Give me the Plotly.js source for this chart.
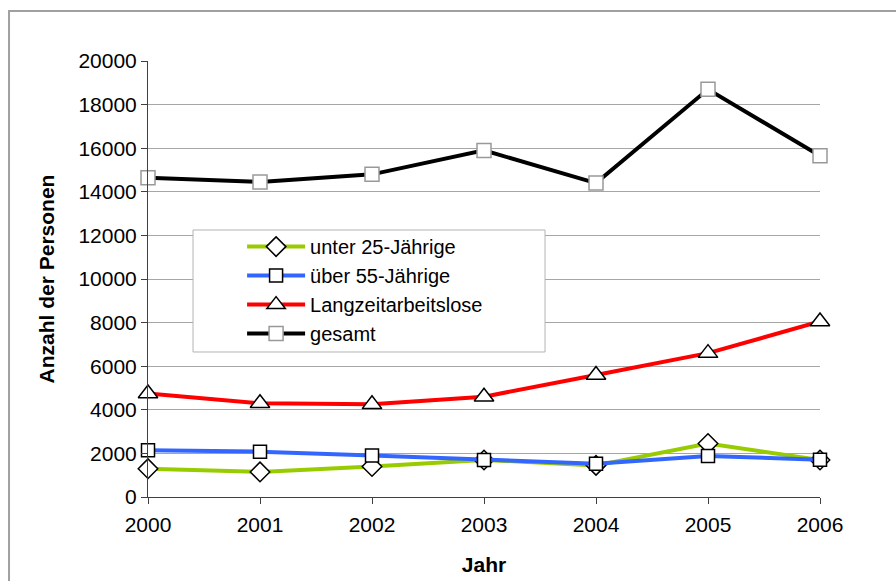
<!DOCTYPE html>
<html>
<head>
<meta charset="utf-8">
<script src="https://cdn.plot.ly/plotly-3.0.1.min.js"></script>
<style>html,body{margin:0;padding:0;background:#fff;}#chart{width:896px;height:581px;}</style>
</head>
<body>
<div id="chart"></div>
<script>
var years = [2000, 2001, 2002, 2003, 2004, 2005, 2006];
var unter25 = [1300, 1150, 1400, 1700, 1450, 2450, 1700];
var ueber55 = [2150, 2080, 1900, 1700, 1530, 1880, 1710];
var langzeit = [4750, 4300, 4250, 4600, 5600, 6600, 8050];
var gesamt = [14650, 14450, 14800, 15900, 14400, 18700, 15650];
var seriesNames = ["unter 25-Jährige", "über 55-Jährige", "Langzeitarbeitslose", "gesamt"];
var yTicks = [0, 2000, 4000, 6000, 8000, 10000, 12000, 14000, 16000, 18000, 20000];

var FONT = "Arial, 'Liberation Sans', sans-serif";

var traces = [
  {x: years, y: unter25, name: seriesNames[0], mode: "lines+markers", cliponaxis: false,
   line: {color: "#99CC00", width: 4},
   marker: {symbol: "diamond", size: 15, color: "#ffffff", line: {color: "#000000", width: 1.5}}},
  {x: years, y: ueber55, name: seriesNames[1], mode: "lines+markers", cliponaxis: false,
   line: {color: "#3366FF", width: 4},
   marker: {symbol: "square", size: 13, color: "#ffffff", line: {color: "#000000", width: 1.5}}},
  {x: years, y: langzeit, name: seriesNames[2], mode: "lines+markers", cliponaxis: false,
   line: {color: "#FF0000", width: 4},
   marker: {symbol: "triangle-up", size: 17, color: "#ffffff", line: {color: "#000000", width: 1.5}}},
  {x: years, y: gesamt, name: seriesNames[3], mode: "lines+markers", cliponaxis: false,
   line: {color: "#000000", width: 4},
   marker: {symbol: "square", size: 14, color: "#ffffff", line: {color: "#999999", width: 1.5}}}
];

var layout = {
  width: 896, height: 581,
  margin: {l: 148, r: 76, t: 61, b: 84},
  paper_bgcolor: "#ffffff", plot_bgcolor: "#ffffff",
  font: {family: FONT, size: 21, color: "#000000"},
  showlegend: true,
  legend: {x: 0.14, y: 0.619, xanchor: "left", yanchor: "top",
           bgcolor: "rgba(0,0,0,0)", borderwidth: 0, itemwidth: 58,
           font: {family: FONT, size: 20, color: "#000000"}, tracegroupgap: 0},
  xaxis: {range: [2000, 2006], tickvals: years, ticktext: years.map(String),
          showgrid: false, zeroline: false, showline: true, linecolor: "#404040", linewidth: 1,
          ticks: "outside", ticklen: 6, tickcolor: "#404040", ticklabelstandoff: 3,
          tickfont: {family: FONT, size: 21},
          title: {text: "<b>Jahr</b>", font: {family: FONT, size: 21}, standoff: 22}},
  yaxis: {range: [0, 20000], tickvals: yTicks, ticktext: yTicks.map(String),
          showgrid: true, gridcolor: "#a6a6a6", gridwidth: 1, zeroline: false,
          showline: true, linecolor: "#404040", linewidth: 1,
          ticks: "outside", ticklen: 6, tickcolor: "#404040",
          tickfont: {family: FONT, size: 21},
          title: {text: "<b>Anzahl der Personen</b>", font: {family: FONT, size: 21}, standoff: 18}},
  shapes: [
    {type: "rect", xref: "paper", yref: "paper", x0: -0.2068, x1: 1.3, y0: -0.4, y1: 1.1147,
     line: {color: "#a0a0a0", width: 2}, fillcolor: "rgba(0,0,0,0)", layer: "below"},
    {type: "rect", xref: "paper", yref: "paper", x0: 0.067, x1: 0.5908, y0: 0.3326, y1: 0.6124,
     line: {color: "#b4b4b4", width: 1}, fillcolor: "#ffffff", layer: "above"}
  ]
};

Plotly.newPlot("chart", traces, layout, {displayModeBar: false, staticPlot: true});
</script>
</body>
</html>
